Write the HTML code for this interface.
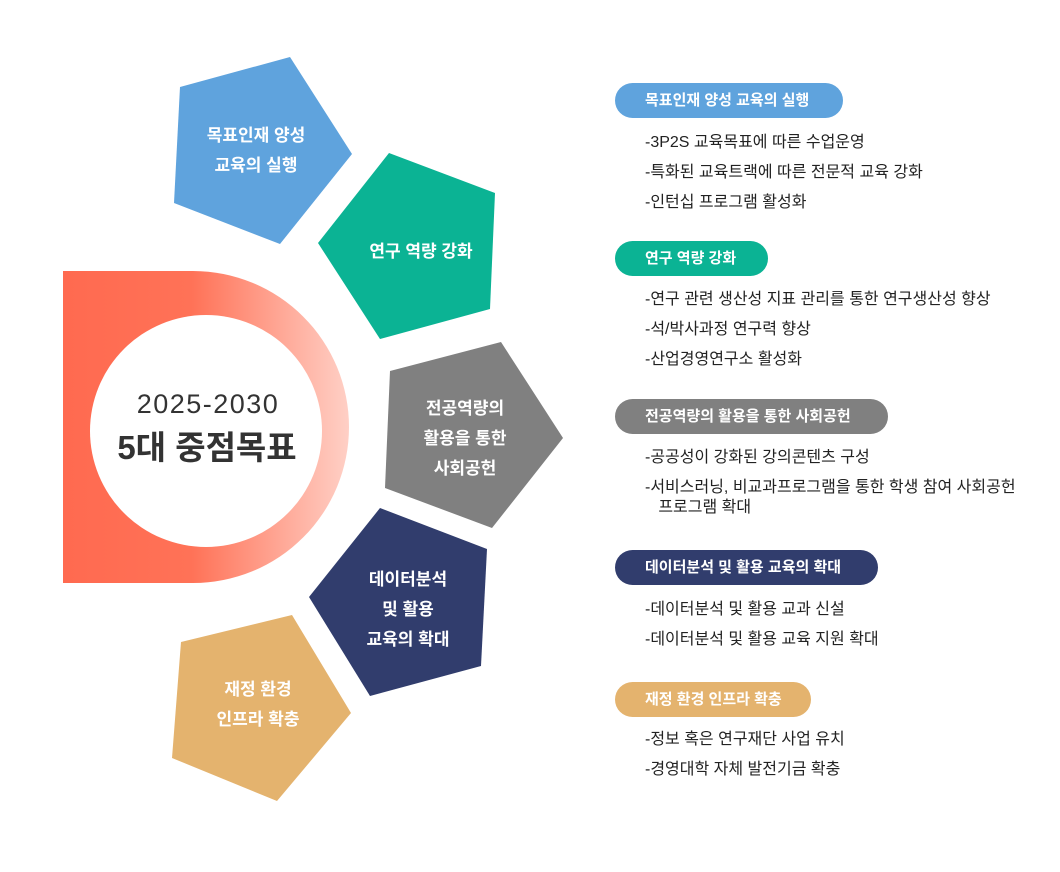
<!DOCTYPE html>
<html><head><meta charset="utf-8"><style>
body{margin:0;width:1060px;height:872px;background:#fff;position:relative;overflow:hidden;font-family:"Liberation Sans","Noto Sans CJK KR",sans-serif;}
.pill{position:absolute;left:615px;height:35px;line-height:35px;border-radius:18px;color:#fff;font-weight:bold;font-size:15px;padding:0 0 0 30px;box-sizing:border-box;}
.li{position:absolute;left:645px;font-size:16px;color:#222;line-height:20px;}
svg{position:absolute;left:0;top:0}
</style></head><body>
<svg width="1060" height="872">
<defs><linearGradient id="g" x1="63" y1="0" x2="349" y2="0" gradientUnits="userSpaceOnUse">
<stop offset="0" stop-color="#ff6a50"/><stop offset="0.45" stop-color="#ff7257"/><stop offset="1" stop-color="#ffd0c6"/></linearGradient></defs>
<path d="M63 271 H193 A156 156 0 0 1 193 583 H63 Z" fill="url(#g)"/>
<circle cx="206" cy="431" r="116" fill="#fff"/>
<text x="208" y="413" text-anchor="middle" font-size="27" letter-spacing="1.5" fill="#333" font-family="Liberation Sans, Noto Sans CJK KR, sans-serif">2025-2030</text>
<text x="207" y="459" text-anchor="middle" font-size="33" font-weight="bold" fill="#333" font-family="Liberation Sans, Noto Sans CJK KR, sans-serif">5대 중점목표</text>
<polygon points="180,87 290,57 352,154 280,244 174,203" fill="#5fa3dd"/>
<polygon points="389,153 495,193 490,309 380,339 318,243" fill="#0bb394"/>
<polygon points="390,371 501,342 563,438 492,528 385,488" fill="#808080"/>
<polygon points="380,508 487,549 481,666 370,696 309,597" fill="#313d6d"/>
<polygon points="181,642 292,615 351,713 277,801 172,758" fill="#e4b36e"/>
<g fill="#fff" font-size="17" font-weight="bold" text-anchor="middle" font-family="Liberation Sans, Noto Sans CJK KR, sans-serif">
<text x="256" y="141">목표인재 양성</text><text x="256" y="171">교육의 실행</text>
<text x="421" y="257">연구 역량 강화</text>
<text x="465" y="414">전공역량의</text><text x="465" y="444">활용을 통한</text><text x="465" y="474">사회공헌</text>
<text x="408" y="585">데이터분석</text><text x="408" y="615">및 활용</text><text x="408" y="645">교육의 확대</text>
<text x="258" y="695">재정 환경</text><text x="258" y="725">인프라 확충</text>
</g>
</svg>
<div class="pill" style="top:83px;width:228px;background:#5fa3dd">목표인재 양성 교육의 실행</div>
<div class="li" style="top:133px">-3P2S 교육목표에 따른 수업운영</div>
<div class="li" style="top:163px">-특화된 교육트랙에 따른 전문적 교육 강화</div>
<div class="li" style="top:193px">-인턴십 프로그램 활성화</div>
<div class="pill" style="top:241px;width:153px;background:#0bb394">연구 역량 강화</div>
<div class="li" style="top:290px">-연구 관련 생산성 지표 관리를 통한 연구생산성 향상</div>
<div class="li" style="top:320px">-석/박사과정 연구력 향상</div>
<div class="li" style="top:350px">-산업경영연구소 활성화</div>
<div class="pill" style="top:399px;width:273px;background:#808080">전공역량의 활용을 통한 사회공헌</div>
<div class="li" style="top:448px">-공공성이 강화된 강의콘텐츠 구성</div>
<div class="li" style="top:478px">-서비스러닝, 비교과프로그램을 통한 학생 참여 사회공헌<br>&nbsp;&nbsp;&nbsp;프로그램 확대</div>
<div class="pill" style="top:550px;width:263px;background:#313d6d">데이터분석 및 활용 교육의 확대</div>
<div class="li" style="top:600px">-데이터분석 및 활용 교과 신설</div>
<div class="li" style="top:630px">-데이터분석 및 활용 교육 지원 확대</div>
<div class="pill" style="top:682px;width:196px;background:#e4b36e">재정 환경 인프라 확충</div>
<div class="li" style="top:730px">-정보 혹은 연구재단 사업 유치</div>
<div class="li" style="top:760px">-경영대학 자체 발전기금 확충</div>
</body></html>
